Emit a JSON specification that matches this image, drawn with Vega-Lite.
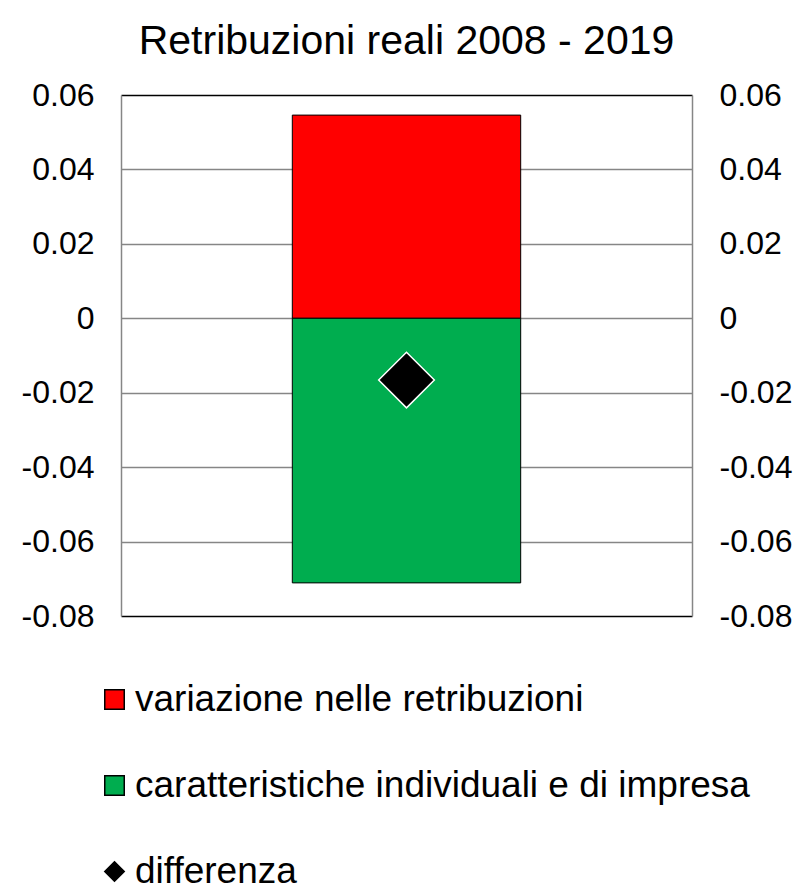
{
  "$schema": "https://vega.github.io/schema/vega-lite/v6.json",
  "width": 571,
  "height": 521,
  "autosize": {"type": "none"},
  "padding": {"left": 121, "top": 95, "right": 105, "bottom": 271},
  "background": "white",
  "title": {
    "text": "Retribuzioni reali 2008 - 2019",
    "font": "Liberation Sans",
    "fontSize": 41,
    "fontWeight": "normal",
    "color": "#000000",
    "anchor": "middle",
    "baseline": "alphabetic",
    "offset": 30,
    "dy": 46
  },
  "config": {
    "view": {"stroke": null},
    "font": "Liberation Sans"
  },
  "data": {
    "values": [
      {"periodo": "2008-2019", "serie": "variazione nelle retribuzioni", "valore": 0.0546},
      {"periodo": "2008-2019", "serie": "caratteristiche individuali e di impresa", "valore": -0.0711},
      {"periodo": "2008-2019", "serie": "differenza", "valore": -0.0166}
    ]
  },
  "encoding": {
    "x": {
      "field": "periodo",
      "type": "nominal",
      "axis": null,
      "scale": {"paddingInner": 0, "paddingOuter": 0.75}
    }
  },
  "layer": [
    {
      "transform": [{"filter": "datum.serie != 'differenza'"}],
      "mark": {"type": "bar", "stroke": "#000000", "strokeWidth": 1},
      "encoding": {
        "y": {
          "field": "valore",
          "type": "quantitative",
          "stack": "zero",
          "scale": {"domain": [-0.08, 0.06], "nice": false, "zero": false},
          "axis": {
            "orient": "left",
            "title": null,
            "values": [-0.08, -0.06, -0.04, -0.02, 0, 0.02, 0.04, 0.06],
            "labelExpr": "datum.value == 0 ? '0' : (datum.value < 0 ? '-' + format(-datum.value, '.2f') : format(datum.value, '.2f'))",
            "labelFont": "Liberation Sans",
            "labelFontSize": 32,
            "labelColor": "#000000",
            "labelPadding": 27,
            "ticks": false,
            "domainColor": "#868686",
            "domainWidth": 1.5,
            "grid": true,
            "gridColor": {"condition": {"test": "datum.value == 0.06 || datum.value == -0.08", "value": "#000000"}, "value": "#868686"},
            "gridWidth": 1.5
          }
        },
        "color": {
          "field": "serie",
          "type": "nominal",
          "sort": null,
          "scale": {
            "domain": ["variazione nelle retribuzioni", "caratteristiche individuali e di impresa", "differenza"],
            "range": ["#ff0000", "#00ad4f", "#000000"]
          },
          "legend": {
            "title": null,
            "orient": "none",
            "direction": "vertical",
            "legendX": -25,
            "legendY": 586,
            "labelFont": "Liberation Sans",
            "labelFontSize": 37,
            "labelColor": "#000000",
            "labelOffset": 2,
            "symbolSize": 380,
            "rowPadding": 48,
            "padding": 0,
            "labelLimit": 800,
            "encode": {
              "symbols": {"update": {"stroke": {"value": "#222222"}, "strokeWidth": {"value": 1}}}
            }
          }
        },
        "order": {"field": "valore", "type": "quantitative"}
      }
    },
    {
      "transform": [{"filter": "datum.serie == 'differenza'"}],
      "mark": {"type": "point", "filled": true, "stroke": "#ffffff", "strokeWidth": 1.5, "opacity": 1},
      "encoding": {
        "y": {
          "field": "valore",
          "type": "quantitative",
          "axis": {
            "orient": "right",
            "title": null,
            "values": [-0.08, -0.06, -0.04, -0.02, 0, 0.02, 0.04, 0.06],
            "labelExpr": "datum.value == 0 ? '0' : (datum.value < 0 ? '-' + format(-datum.value, '.2f') : format(datum.value, '.2f'))",
            "labelFont": "Liberation Sans",
            "labelFontSize": 32,
            "labelColor": "#000000",
            "labelPadding": 27,
            "ticks": false,
            "domainColor": "#868686",
            "domainWidth": 1.5,
            "grid": false
          }
        },
        "color": {"field": "serie", "type": "nominal", "sort": null},
        "shape": {
          "field": "serie",
          "type": "nominal",
          "sort": null,
          "scale": {
            "domain": ["variazione nelle retribuzioni", "caratteristiche individuali e di impresa", "differenza"],
            "range": ["square", "square", "diamond"]
          }
        },
        "size": {"value": 3100}
      }
    }
  ],
  "resolve": {"scale": {"y": "shared"}, "axis": {"y": "independent"}}
}
